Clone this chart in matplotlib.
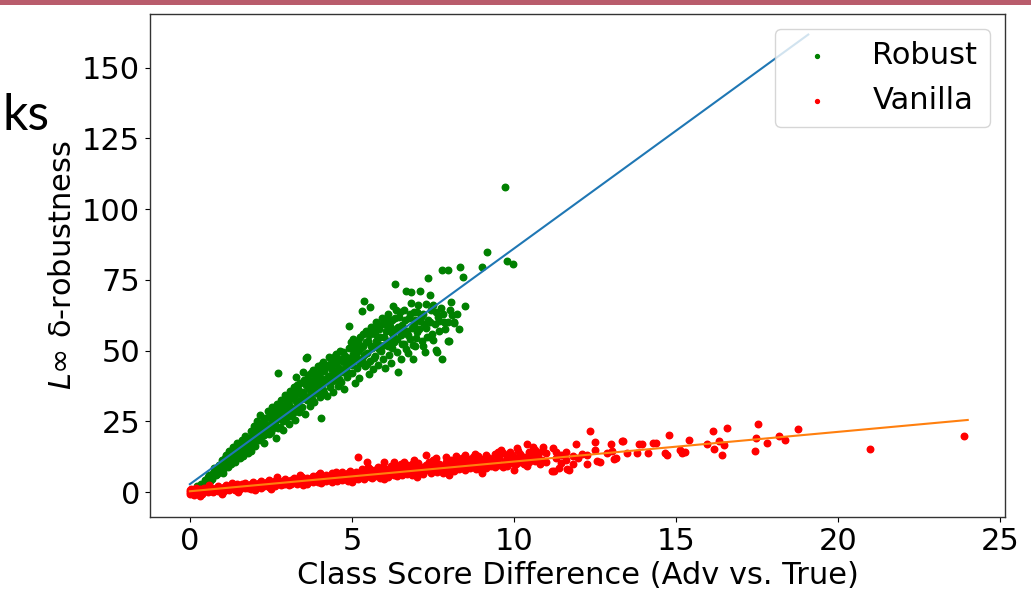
import numpy as np
import matplotlib
matplotlib.use("Agg")
import matplotlib.pyplot as plt
from matplotlib.patches import Rectangle

# (class score difference, L-inf delta-robustness) for the robustly trained model
robust_pts = np.array([
    (0.23, 2.1), (0.46, 4.2), (0.35, 3.0), (0.55, 5.5), (0.62, 4.0), (0.70, 6.8), (0.75, 8.5),
    (0.82, 5.9), (0.90, 9.5), (0.95, 7.5), (1.00, 11.2), (1.05, 8.4), (1.10, 13.0), (1.12, 10.1),
    (1.18, 9.0), (1.20, 14.5), (1.25, 11.8), (1.30, 12.9), (1.32, 16.0), (1.38, 10.8), (1.40, 14.0),
    (1.45, 17.5), (1.50, 13.2), (1.52, 15.6), (1.55, 11.9), (1.60, 18.4), (1.62, 16.5), (1.68, 14.3),
    (1.70, 20.0), (1.75, 17.2), (1.78, 13.8), (1.82, 19.1), (1.85, 15.9), (1.90, 21.5), (1.92, 17.8),
    (1.97, 23.4), (2.00, 19.5), (2.02, 16.2), (2.06, 25.0), (2.10, 21.0), (2.12, 18.3), (2.15, 27.1),
    (2.20, 22.8), (2.22, 19.7), (2.25, 24.5), (2.30, 17.2), (2.32, 26.3), (2.35, 21.6), (2.40, 28.8),
    (2.42, 23.7), (2.45, 20.4), (2.50, 26.0), (2.52, 30.1), (2.55, 22.5), (2.60, 27.4), (2.62, 24.8),
    (2.65, 19.3), (2.68, 31.2), (2.70, 25.9), (2.73, 42.0), (2.75, 29.0), (2.78, 23.1), (2.80, 32.6),
    (2.83, 27.5), (2.86, 21.8), (2.90, 30.4), (2.92, 34.5), (2.95, 25.6), (3.00, 28.9), (3.02, 32.0),
    (3.05, 23.9), (3.08, 35.8), (3.10, 30.2), (3.12, 27.0), (3.15, 33.6), (3.20, 37.0), (3.22, 29.4),
    (3.25, 25.5), (3.28, 34.8), (3.29, 40.8), (3.30, 31.5), (3.35, 36.3), (3.38, 28.2), (3.40, 38.6),
    (3.42, 33.0), (3.45, 30.0), (3.50, 35.5), (3.52, 39.8), (3.55, 27.6), (3.57, 47.3), (3.60, 47.6),
    (3.60, 32.7), (3.63, 37.4), (3.66, 41.5), (3.70, 34.4), (3.72, 30.6), (3.75, 39.0), (3.78, 36.0),
    (3.80, 43.0), (3.82, 32.0), (3.86, 38.0), (3.90, 41.0), (3.92, 35.2), (3.95, 44.5), (4.00, 37.5),
    (4.02, 33.6), (4.05, 40.5), (4.06, 26.1), (4.10, 46.0), (4.12, 36.0), (4.15, 42.7), (4.20, 39.0),
    (4.22, 34.0), (4.25, 44.8), (4.30, 41.2), (4.32, 37.2), (4.35, 47.0), (4.40, 43.0), (4.42, 35.5),
    (4.45, 39.8), (4.50, 45.8), (4.52, 48.8), (4.55, 41.6), (4.58, 37.5), (4.60, 44.0), (4.63, 50.0),
    (4.66, 39.0), (4.70, 46.5), (4.72, 42.5), (4.75, 36.5), (4.80, 48.2), (4.82, 44.0), (4.85, 40.6),
    (4.90, 51.0), (4.92, 58.7), (4.95, 45.5), (5.00, 42.0), (5.02, 54.1), (5.03, 48.8), (5.08, 38.5),
    (5.10, 46.8), (5.12, 52.0), (5.15, 43.8), (5.20, 49.8), (5.22, 40.5), (5.25, 55.0), (5.30, 47.0),
    (5.32, 63.9), (5.35, 51.8), (5.37, 67.6), (5.40, 44.6), (5.42, 57.0), (5.45, 49.0), (5.50, 53.5),
    (5.52, 41.8), (5.56, 65.3), (5.55, 46.5), (5.60, 58.5), (5.62, 50.8), (5.65, 43.5), (5.70, 55.8),
    (5.72, 48.0), (5.75, 60.2), (5.80, 52.5), (5.82, 45.0), (5.85, 57.8), (5.90, 50.0), (5.92, 61.5),
    (5.95, 47.0), (6.00, 54.8), (6.02, 43.8), (6.05, 59.5), (6.10, 51.5), (6.12, 63.0), (6.15, 48.6),
    (6.20, 56.5), (6.22, 45.5), (6.25, 60.8), (6.28, 65.8), (6.30, 53.0), (6.34, 73.6), (6.35, 57.8),
    (6.36, 64.4), (6.40, 49.5), (6.43, 42.6), (6.45, 62.0), (6.50, 55.5), (6.52, 47.0), (6.55, 59.2),
    (6.60, 52.2), (6.62, 64.5), (6.68, 71.2), (6.70, 57.0), (6.72, 49.0), (6.75, 61.5), (6.81, 70.9),
    (6.82, 67.0), (6.80, 54.0), (6.87, 47.0), (6.90, 59.0), (6.92, 63.5), (6.95, 51.5), (7.00, 56.5),
    (7.05, 66.0), (7.10, 60.5), (7.11, 71.2), (7.15, 53.5), (7.20, 63.0), (7.25, 49.5), (7.30, 58.0),
    (7.36, 75.6), (7.35, 61.0), (7.40, 55.0), (7.41, 69.7), (7.45, 64.5), (7.51, 66.1), (7.51, 53.8),
    (7.55, 59.5), (7.59, 50.2), (7.61, 49.7), (7.65, 62.0), (7.70, 57.0), (7.78, 46.9), (7.79, 78.5),
    (7.82, 63.0), (7.85, 60.0), (7.95, 53.4), (7.97, 78.5), (7.97, 60.2), (7.98, 53.5), (8.07, 67.3),
    (8.10, 62.5), (8.15, 59.9), (8.16, 60.2), (8.35, 79.6), (8.44, 75.9), (8.49, 65.8), (9.00, 79.6),
    (9.16, 85.0), (9.72, 107.9), (9.77, 81.7), (9.96, 80.5),
    (0.50, 3.5), (0.60, 6.0), (0.68, 4.8), (0.78, 7.2), (0.85, 6.5), (0.92, 8.0), (0.98, 10.0),
    (1.02, 6.9), (1.08, 12.2), (1.15, 9.6), (1.22, 12.5), (1.28, 9.8), (1.35, 13.5), (1.42, 12.0),
    (1.48, 16.2), (1.58, 14.8), (1.65, 12.8), (1.72, 16.0), (1.80, 18.0), (1.88, 14.6), (1.95, 20.5),
    (2.05, 22.5), (2.08, 18.8), (2.18, 24.2), (2.28, 20.3), (2.28, 25.8), (2.38, 22.7), (2.48, 27.8),
    (2.50, 21.2), (2.58, 25.0), (2.64, 29.4), (2.72, 22.6), (2.76, 27.2), (2.85, 30.0), (2.88, 25.0),
    (2.97, 33.0), (3.00, 26.5), (3.06, 30.8), (3.14, 35.0), (3.18, 28.0), (3.25, 32.5), (3.32, 38.0),
    (3.36, 30.3), (3.44, 35.0), (3.48, 42.5), (3.54, 33.6), (3.58, 37.8), (3.62, 40.0), (3.68, 36.5),
    (3.74, 42.0), (3.76, 33.0), (3.84, 40.0), (3.88, 35.5), (3.94, 38.8), (3.98, 42.5), (4.04, 45.0),
    (4.08, 38.2), (4.14, 35.0), (4.18, 44.0), (4.24, 40.5), (4.28, 47.8), (4.34, 39.0), (4.38, 45.2),
    (4.44, 41.0), (4.48, 48.0), (4.54, 43.5), (4.60, 40.0), (4.64, 47.0), (4.68, 43.0), (4.74, 49.5),
    (4.78, 45.8), (4.86, 42.5), (4.90, 47.5), (4.96, 53.0), (5.00, 45.0), (5.05, 50.5), (5.14, 48.0),
    (5.18, 53.5), (5.24, 45.5), (5.28, 51.0), (5.34, 56.0), (5.38, 48.5), (5.44, 53.0), (5.48, 45.2),
    (5.54, 55.5), (5.58, 51.8), (5.64, 57.0), (5.68, 47.5), (5.74, 53.5), (5.78, 58.5), (5.84, 50.5),
    (5.88, 55.0), (5.94, 59.5), (5.98, 52.0), (6.04, 57.0), (6.08, 61.0), (6.14, 53.5), (6.18, 58.8),
    (6.24, 51.0), (6.28, 55.5), (6.32, 61.5), (6.38, 54.0), (6.42, 58.5), (6.48, 63.5), (6.54, 52.5),
    (6.58, 56.8), (6.64, 61.0), (6.66, 50.5), (6.74, 55.5), (6.78, 63.0), (6.84, 58.0), (6.88, 52.0),
    (6.94, 61.0), (6.98, 54.5), (7.02, 63.8), (7.08, 57.5), (7.14, 62.0), (7.18, 51.5), (7.22, 59.5),
    (7.28, 66.5), (7.32, 55.0), (7.42, 60.0), (7.48, 56.0), (7.58, 63.5), (7.68, 60.5), (7.75, 65.0),
    (7.88, 57.5), (8.02, 64.5), (8.25, 63.0), (8.30, 57.5),
])

# (class score difference, L-inf delta-robustness) for the vanilla model
vanilla_pts = np.array([
    (0.00, -0.8), (0.00, 0.6), (0.00, 0.1), (0.05, 1.2), (0.05, -0.3), (0.12, 0.4), (0.12, -1.0),
    (0.20, 0.9), (0.20, -0.2), (0.20, 1.6), (0.30, 0.2), (0.30, 1.1), (0.38, -0.5), (0.38, 0.8),
    (0.45, 1.5), (0.45, 0.3), (0.55, 0.7), (0.55, -0.1), (0.62, 1.9), (0.62, 0.5), (0.70, 1.0),
    (0.70, 0.1), (0.80, 1.6), (0.80, 0.6), (0.88, 0.3), (0.88, 2.2), (0.95, 1.2), (0.95, 0.8),
    (1.05, 1.8), (1.05, 0.5), (1.12, 2.6), (1.12, 1.1), (1.20, 0.8), (1.20, 1.9), (1.30, 1.4),
    (1.30, 2.4), (1.38, 0.9), (1.38, 2.0), (1.45, 2.9), (1.45, 1.5), (1.55, 1.1), (1.55, 2.2),
    (1.62, 1.8), (1.62, 2.7), (1.70, 1.3), (1.70, 3.3), (1.80, 2.3), (1.80, 1.6), (1.88, 2.9),
    (1.88, 1.2), (1.95, 2.0), (1.95, 3.5), (2.05, 1.7), (2.05, 2.6), (2.12, 3.1), (2.12, 2.2),
    (2.20, 1.5), (2.20, 3.9), (2.30, 2.6), (2.30, 2.0), (2.38, 3.4), (2.38, 2.9), (2.45, 1.9),
    (2.45, 4.2), (2.55, 2.8), (2.55, 3.4), (2.62, 2.2), (2.62, 3.9), (2.70, 3.1), (2.70, 4.6),
    (2.80, 2.5), (2.80, 3.6), (2.88, 4.1), (2.88, 3.0), (2.95, 2.7), (2.95, 4.8), (3.05, 3.4),
    (3.05, 2.4), (3.12, 4.3), (3.12, 3.0), (3.20, 3.8), (3.20, 5.0), (3.30, 2.9), (3.30, 4.0),
    (3.38, 4.6), (3.38, 3.5), (3.45, 3.1), (3.45, 5.3), (3.55, 4.2), (3.55, 3.7), (3.62, 5.0),
    (3.62, 2.9), (3.70, 3.9), (3.70, 4.7), (3.80, 5.6), (3.80, 3.4), (3.88, 4.3), (3.88, 5.1),
    (3.95, 3.7), (3.95, 6.0), (4.05, 4.8), (4.05, 3.2), (4.12, 5.5), (4.12, 4.1), (4.20, 3.9),
    (4.20, 6.2), (4.30, 4.6), (4.30, 5.2), (4.38, 3.6), (4.38, 6.6), (4.45, 5.8), (4.45, 4.4),
    (4.55, 4.9), (4.55, 3.9), (4.62, 6.4), (4.62, 5.3), (4.70, 4.2), (4.70, 7.0), (4.80, 5.6),
    (4.80, 4.8), (4.88, 6.8), (4.88, 4.0), (4.95, 5.2), (4.95, 7.5), (5.05, 6.0), (5.05, 4.5),
    (5.12, 7.2), (5.12, 5.4), (5.20, 12.5), (5.20, 4.8), (5.20, 6.5), (5.30, 5.7), (5.30, 8.0),
    (5.38, 4.6), (5.38, 6.9), (5.45, 10.7), (5.45, 6.0), (5.45, 7.6), (5.55, 5.2), (5.55, 8.3),
    (5.62, 6.6), (5.62, 4.9), (5.70, 7.9), (5.70, 5.8), (5.80, 6.3), (5.80, 8.7), (5.88, 5.1),
    (5.88, 7.2), (5.95, 9.0), (5.95, 6.0), (6.00, 10.7), (6.00, 7.6), (6.05, 5.6), (6.05, 6.8),
    (6.12, 8.2), (6.12, 5.3), (6.20, 7.1), (6.20, 9.4), (6.30, 10.7), (6.30, 6.2), (6.30, 8.0),
    (6.38, 5.8), (6.38, 7.4), (6.45, 9.2), (6.45, 6.8), (6.55, 8.4), (6.55, 5.9), (6.60, 10.7),
    (6.60, 7.5), (6.70, 6.4), (6.70, 9.6), (6.78, 8.6), (6.78, 7.0), (6.85, 6.0), (6.85, 9.9),
    (6.95, 7.8), (6.95, 8.9), (7.05, 6.7), (7.05, 10.2), (7.12, 9.0), (7.12, 7.4), (7.20, 8.2),
    (7.20, 6.3), (7.30, 13.1), (7.30, 9.7), (7.30, 7.7), (7.38, 8.6), (7.38, 10.5), (7.45, 6.8),
    (7.45, 9.1), (7.55, 8.0), (7.55, 10.8), (7.62, 7.2), (7.62, 9.5), (7.70, 10.1), (7.70, 8.4),
    (7.80, 6.9), (7.80, 9.0), (7.90, 12.3), (7.90, 8.0), (7.90, 10.6), (7.98, 9.4), (7.98, 7.5),
    (8.05, 11.2), (8.05, 8.7), (8.15, 7.6), (8.15, 10.0), (8.22, 9.2), (8.22, 11.6), (8.30, 8.1),
    (8.30, 10.4), (8.40, 12.0), (8.40, 9.6), (8.50, 13.0), (8.50, 7.9), (8.50, 10.9), (8.58, 9.0),
    (8.58, 11.8), (8.65, 8.4), (8.65, 10.2), (8.75, 12.4), (8.75, 9.5), (8.82, 8.0), (8.82, 11.0),
    (8.90, 10.3), (8.90, 12.8), (8.98, 9.2), (8.98, 7.8), (9.05, 11.6), (9.05, 10.0), (9.15, 13.0),
    (9.15, 8.6), (9.22, 10.7), (9.22, 12.2), (9.30, 9.3), (9.30, 11.4), (9.40, 13.4), (9.40, 8.9),
    (9.48, 10.5), (9.48, 12.6), (9.55, 9.7), (9.55, 11.9), (9.65, 13.7), (9.65, 8.7), (9.72, 11.0),
    (9.72, 10.1), (9.80, 12.8), (9.80, 9.4), (9.88, 14.2), (9.88, 11.6), (9.95, 10.4), (9.95, 13.1),
    (10.05, 12.0), (10.05, 9.8), (10.12, 14.5), (10.12, 11.2), (10.20, 10.5), (10.20, 13.4),
    (10.30, 12.5), (10.30, 9.9), (10.39, 16.9), (10.39, 11.7), (10.45, 14.0), (10.45, 10.8),
    (10.55, 12.8), (10.55, 13.9), (10.65, 11.0), (10.65, 15.0), (10.75, 13.3), (10.75, 12.2),
    (10.85, 11.5), (10.85, 14.4), (11.00, 13.7), (11.00, 10.8), (11.17, 7.5), (11.23, 7.5),
    (11.30, 14.3), (11.30, 12.0), (11.45, 13.0), (11.45, 10.4), (11.60, 14.3), (11.60, 11.5),
    (11.63, 8.0), (11.70, 7.8), (11.83, 10.1), (11.83, 12.6), (11.90, 16.9), (11.98, 11.9),
    (12.10, 13.5), (12.24, 10.1), (12.26, 13.1), (12.35, 21.7), (12.50, 17.8), (12.50, 15.0),
    (12.56, 11.1), (12.65, 10.7), (12.86, 13.7), (13.00, 16.9), (13.02, 14.6), (13.09, 11.7),
    (13.14, 11.9), (13.32, 18.0), (13.37, 18.2), (13.50, 13.9), (13.79, 13.9), (13.87, 16.9),
    (13.96, 16.9), (14.15, 13.7), (14.29, 17.4), (14.38, 17.2), (14.66, 13.7), (14.73, 13.1),
    (14.78, 20.2), (15.13, 14.9), (15.19, 13.9), (15.28, 14.3), (15.39, 18.4), (15.95, 16.9),
    (16.14, 21.7), (16.18, 15.1), (16.32, 18.0), (16.42, 13.1), (16.48, 16.6), (16.56, 22.8),
    (17.45, 14.6), (17.47, 19.3), (17.53, 23.9), (17.82, 17.4), (18.17, 19.8), (18.35, 18.4),
    (18.76, 22.3), (20.98, 15.2), (23.90, 19.7),
    (3.50, 2.5), (4.00, 6.8), (4.50, 7.2), (5.00, 3.4), (5.50, 9.0), (6.00, 4.5), (6.50, 10.0),
    (7.00, 5.2), (7.50, 11.5), (8.00, 6.0), (8.50, 12.0), (9.00, 6.8), (9.50, 14.0), (10.00, 7.8),
    (10.10, 15.5), (9.60, 15.0), (8.80, 13.6), (8.20, 12.8), (7.60, 12.0), (6.90, 11.2),
    (10.60, 16.0), (10.90, 15.8), (11.20, 15.5), (10.80, 9.8), (10.40, 9.2), (11.40, 8.6),
    (1.00, -0.6), (1.50, 0.2), (2.00, 0.8), (2.50, 1.2), (0.30, -1.4), (0.60, 2.4), (1.30, 3.2),
    (2.70, 5.2), (3.40, 6.0),
])

# least-squares fits: (slope, intercept) and the x span each line is drawn over
robust_fit = (8.33, 2.8)
robust_fit_span = (0.0, 19.08)
vanilla_fit = (1.05, 0.3)
vanilla_fit_span = (0.0, 24.0)

series_labels = ["Robust", "Vanilla"]
x_ticks = [0, 5, 10, 15, 20, 25]
y_ticks = [0, 25, 50, 75, 100, 125, 150]
x_label = "Class Score Difference (Adv vs. True)"
y_label = r"$L\infty$ δ-robustness"

plt.rcParams["font.family"] = ["DejaVu Sans"]
plt.rcParams["font.size"] = 22

fig = plt.figure(figsize=(10.31, 5.96), dpi=100)

# slide header strip and the clipped slide title fragment
fig.add_artist(Rectangle((0, 1 - 4.5 / 596), 1, 4.5 / 596, transform=fig.transFigure,
                         color="#b95c6c", lw=0))
fig.text(0.002, 1 - 130 / 596, "ks", fontsize=36, family=["Lato", "DejaVu Sans"],
         color="black", ha="left", va="baseline")

ax = fig.add_axes([150 / 1031, 1 - 517 / 596, 855 / 1031, 503 / 596])

ax.scatter(robust_pts[:, 0], robust_pts[:, 1], s=22, c="green", label=series_labels[0])
ax.scatter(vanilla_pts[:, 0], vanilla_pts[:, 1], s=22, c="red", label=series_labels[1])

xr = np.array(robust_fit_span)
ax.plot(xr, robust_fit[0] * xr + robust_fit[1], color="C0", lw=1.5)
xv = np.array(vanilla_fit_span)
ax.plot(xv, vanilla_fit[0] * xv + vanilla_fit[1], color="C1", lw=1.5)

ax.set_xlim(-1.23, 25.15)
ax.set_ylim(-8.8, 169)
ax.set_xticks(x_ticks)
ax.set_yticks(y_ticks)
ax.set_xlabel(x_label)
ax.set_ylabel(y_label)

for sp in ax.spines.values():
    sp.set_color("#333333")
    sp.set_linewidth(1.0)

ax.legend(loc="upper right", markerscale=0.6)

fig.savefig("out.png", dpi=100)
